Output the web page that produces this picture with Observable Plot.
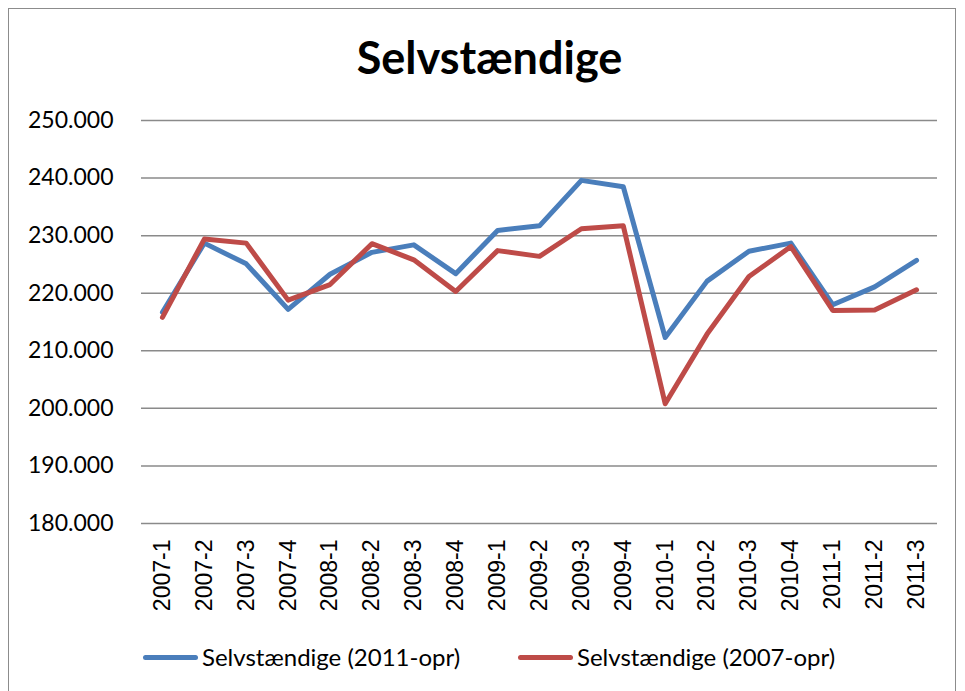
<!DOCTYPE html>
<html>
<head>
<meta charset="utf-8">
<script src="https://cdn.jsdelivr.net/npm/d3@7"></script>
<script src="https://cdn.jsdelivr.net/npm/@observablehq/plot@0.6"></script>
<style>
  html, body { margin: 0; padding: 0; background: #fff; }
  #wrap { position: relative; width: 965px; height: 691px; overflow: hidden; font-family: Lato, "Open Sans", sans-serif; }
  #frame { position: absolute; left: 8px; top: 8px; width: 948px; height: 700px; border: 1.5px solid #8c8c8c; box-sizing: border-box; }
  #title { position: absolute; left: 7px; width: 965px; top: 30px; text-align: center; font-size: 45px; line-height: 54px; font-weight: bold; color: #000; }
  #chart { position: absolute; left: 0; top: 0; }
  #legend { position: absolute; top: 642px; left: 0; width: 965px; font-size: 24px; line-height: 30px; color: #000; }
  .item { position: absolute; display: flex; align-items: center; }
  .sw { display: inline-block; width: 55px; height: 5px; margin-right: 4px; border-radius: 2.5px; }
</style>
</head>
<body>
<div id="wrap">
  <div id="frame"></div>
  <div id="chart"></div>
  <div id="title">Selvstændige</div>
  <div id="legend"></div>
</div>
<script>
const categories = ["2007-1","2007-2","2007-3","2007-4","2008-1","2008-2","2008-3","2008-4","2009-1","2009-2","2009-3","2009-4","2010-1","2010-2","2010-3","2010-4","2011-1","2011-2","2011-3"];
// values in thousands
const series2011 = [216.7, 228.7, 225.1, 217.2, 223.3, 227.1, 228.4, 223.4, 230.9, 231.7, 239.6, 238.5, 212.3, 222.1, 227.3, 228.7, 218.0, 221.1, 225.7];
const series2007 = [215.8, 229.4, 228.7, 218.8, 221.5, 228.6, 225.8, 220.3, 227.4, 226.4, 231.2, 231.7, 200.8, 212.9, 222.9, 228.1, 217.0, 217.1, 220.6];
const seriesNames = ["Selvstændige (2011-opr)", "Selvstændige (2007-opr)"];
const seriesColors = ["#4A7EBB", "#BE4B48"];
const yTicks = [180, 190, 200, 210, 220, 230, 240, 250];

const rows = [];
categories.forEach((c, i) => {
  rows.push({cat: c, value: series2011[i], series: seriesNames[0]});
  rows.push({cat: c, value: series2007[i], series: seriesNames[1]});
});

const fmt = d => d3.format(",")(d * 1000).replace(/,/g, ".");

const chart = Plot.plot({
  width: 965,
  height: 640,
  marginLeft: 141,
  marginRight: 28,
  marginTop: 120,
  marginBottom: 117,
  style: {fontFamily: "Lato, 'Open Sans', sans-serif", fontSize: "23px", color: "#000", background: "transparent"},
  x: {type: "point", domain: categories, padding: 0.5, round: false, label: null},
  y: {domain: [180, 250], label: null},
  color: {domain: seriesNames, range: seriesColors},
  marks: [
    Plot.ruleY(yTicks, {stroke: "#8a8a8a", strokeWidth: 1.5}),
    Plot.axisY({ticks: yTicks, tickFormat: fmt, tickSize: 0, tickPadding: 28, fontSize: 23, label: null}),
    Plot.axisX({tickRotate: -90, tickSize: 0, tickPadding: 16, fontSize: 23, fontFamily: "'Liberation Sans', Arial, sans-serif", label: null}),
    Plot.line(rows, {x: "cat", y: "value", z: "series", stroke: "series", strokeWidth: 5, strokeLinejoin: "round", strokeLinecap: "round"})
  ]
});
document.getElementById("chart").appendChild(chart);

const legend = document.getElementById("legend");
const lefts = [143, 518];
seriesNames.forEach((n, i) => {
  const it = document.createElement("div");
  it.className = "item";
  it.style.left = lefts[i] + "px";
  const sw = document.createElement("span");
  sw.className = "sw";
  sw.style.background = seriesColors[i];
  const t = document.createElement("span");
  t.textContent = n;
  it.appendChild(sw);
  it.appendChild(t);
  legend.appendChild(it);
});
</script>
</body>
</html>
